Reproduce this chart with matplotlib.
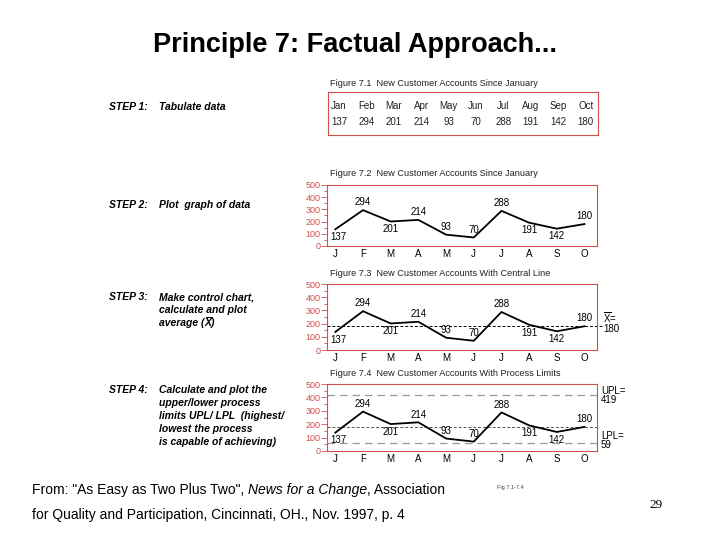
import matplotlib
matplotlib.use("Agg")
import matplotlib.pyplot as plt
from matplotlib.lines import Line2D
from matplotlib.ticker import MultipleLocator

plt.rcParams['font.family'] = ['Liberation Sans', 'DejaVu Sans']
plt.rcParams['mathtext.fontset'] = 'custom'
plt.rcParams['mathtext.rm'] = 'Liberation Sans'

# data
months = ['Jan', 'Feb', 'Mar', 'Apr', 'May', 'Jun', 'Jul', 'Aug', 'Sep', 'Oct']
month_letters = ['J', 'F', 'M', 'A', 'M', 'J', 'J', 'A', 'S', 'O']
accounts = [137, 294, 201, 214, 93, 70, 288, 191, 142, 180]
label_above = [False, True, False, True, True, True, True, False, False, True]
center = 180
upl = 419
lpl = 59

captions = ['Figure 7.1  New Customer Accounts Since January',
            'Figure 7.2  New Customer Accounts Since January',
            'Figure 7.3  New Customer Accounts With Central Line',
            'Figure 7.4  New Customer Accounts With Process Limits']

steps = [('STEP 1:', ['Tabulate data']),
         ('STEP 2:', ['Plot  graph of data']),
         ('STEP 3:', ['Make control chart,', 'calculate and plot']),
         ('STEP 4:', ['Calculate and plot the', 'upper/lower process',
                      'limits UPL/ LPL  (highest/', 'lowest the process',
                      'is capable of achieving)'])]

RED = '#d0504c'
W, H = 720, 540

fig = plt.figure(figsize=(7.2, 5.4), dpi=100)


def box(x0, y0, x1, y1):
    # pixel box -> figure fraction axes
    return fig.add_axes([x0 / W, 1 - y1 / H, (x1 - x0) / W, (y1 - y0) / H])


def ftext(x, y, s, **kw):
    return fig.text(x / W, 1 - y / H, s, **kw)


ftext(355, 45, 'Principle 7: Factual Approach...', ha='center', va='center',
      fontsize=19.5, fontweight='bold')

# table (fig 7.1)
tab = box(328, 92, 598, 135)
tab.set_xlim(-0.4, 9.45)
tab.set_ylim(0, 1)
tab.set_xticks([])
tab.set_yticks([])
for sp in tab.spines.values():
    sp.set_color(RED)
    sp.set_linewidth(0.8)
for i, (m, v) in enumerate(zip(months, accounts)):
    tab.text(i, 0.68, m, ha='center', va='center', fontsize=7, color='#222222')
    tab.text(i, 0.3, str(v), ha='center', va='center', fontsize=7, color='#222222')
ftext(330, 83, captions[0], fontsize=6.6, va='center', color='#222222')

chart_boxes = [(185, 246), (284, 350), (384, 451)]
for k, (top, bot) in enumerate(chart_boxes):
    ax = box(327, top, 597, bot)
    x = list(range(len(accounts)))
    ax.set_xlim(-0.3, 9.45)
    ax.set_ylim(0, 500)
    if k == 2:
        ax.axhline(upl, color='#999999', lw=0.9, dashes=(6, 4), xmax=1.02, clip_on=False)
        ax.axhline(lpl, color='#999999', lw=0.9, dashes=(6, 4), xmax=1.02, clip_on=False)
        ax.axhline(center, color='#555555', lw=0.7, dashes=(3, 2))
    if k == 1:
        ax.axhline(center, color='black', lw=0.7, dashes=(3, 2), xmax=1.02, clip_on=False)
    ax.plot(x, accounts, color='black', lw=1.3)
    for xi, v, up in zip(x, accounts, label_above):
        dx = 2 if xi == 0 else 0
        ax.annotate(str(v), (xi, v), xytext=(dx, 2 if up else -2), textcoords='offset points',
                    ha='center', va='bottom' if up else 'top', fontsize=7)
    ax.set_xticks(x)
    ax.set_xticklabels(month_letters, fontsize=7)
    ax.tick_params(axis='x', length=0, pad=2.5)
    ax.yaxis.set_major_locator(MultipleLocator(100))
    ax.yaxis.set_minor_locator(MultipleLocator(50))
    ax.tick_params(axis='y', which='major', length=4, width=0.6, color=RED,
                   labelcolor=RED, labelsize=6.5, pad=0.5)
    ax.tick_params(axis='y', which='minor', length=2.5, width=0.6, color=RED)
    for sp in ax.spines.values():
        sp.set_color(RED)
        sp.set_linewidth(0.8)
    ftext(330, top - 11, captions[k + 1], fontsize=6.6, va='center', color='#222222')

# side labels
ftext(603, 318, '$\\overline{\\mathrm{X}}$=', fontsize=7, va='center')
ftext(603, 329, '180', fontsize=7, va='center')
ftext(601, 391, 'UPL=', fontsize=7, va='center')
ftext(601, 400, '419', fontsize=7, va='center')
ftext(601, 436, 'LPL=', fontsize=7, va='center')
ftext(601, 445, '59', fontsize=7, va='center')

# step descriptions, baseline aligned
sty = dict(fontsize=7.5, fontweight='bold', style='italic', va='baseline')
step_y = [110, 208, 300, 393]
for (head, lines), y in zip(steps, step_y):
    ftext(109, y, head, **sty)
    for j, line in enumerate(lines):
        ftext(159, y + 13 * j, line, **sty)

fig.canvas.draw()
r = fig.canvas.get_renderer()

# "average (X)" with a bar over the X, pieced together
ya = 300 + 26
pa = ftext(159, ya, 'average (', **sty)
bx = pa.get_window_extent(r)
px = fig.text(bx.x1 / W, 1 - ya / H, 'X', **sty)
bxx = px.get_window_extent(r)
fig.text(bxx.x1 / W, 1 - ya / H, ')', **sty)
ybar = (bxx.y1 + 1.2) / H
fig.add_artist(Line2D([(bxx.x0 + 1) / W, (bxx.x1 + 0.5) / W], [ybar, ybar],
                      color='black', lw=0.7, transform=fig.transFigure))

# source note
fs = 10
t1 = ftext(32, 490, 'From: "As Easy as Two Plus Two", ', fontsize=fs, va='center')
ftext(32, 515, 'for Quality and Participation, Cincinnati, OH., Nov. 1997, p. 4',
      fontsize=fs, va='center')
bb = t1.get_window_extent(r)
t2 = fig.text(bb.x1 / W, 1 - 490 / H, 'News for a Change', fontsize=fs, va='center',
              style='italic')
bb2 = t2.get_window_extent(r)
fig.text(bb2.x1 / W, 1 - 490 / H, ', Association', fontsize=fs, va='center')

ftext(497, 487, 'Fig 7.1-7.4', fontsize=4, va='center', color='#444444')
ftext(649, 505, '29', fontsize=9.5, va='center', family='Liberation Serif')

fig.savefig('out.png', dpi=100)
